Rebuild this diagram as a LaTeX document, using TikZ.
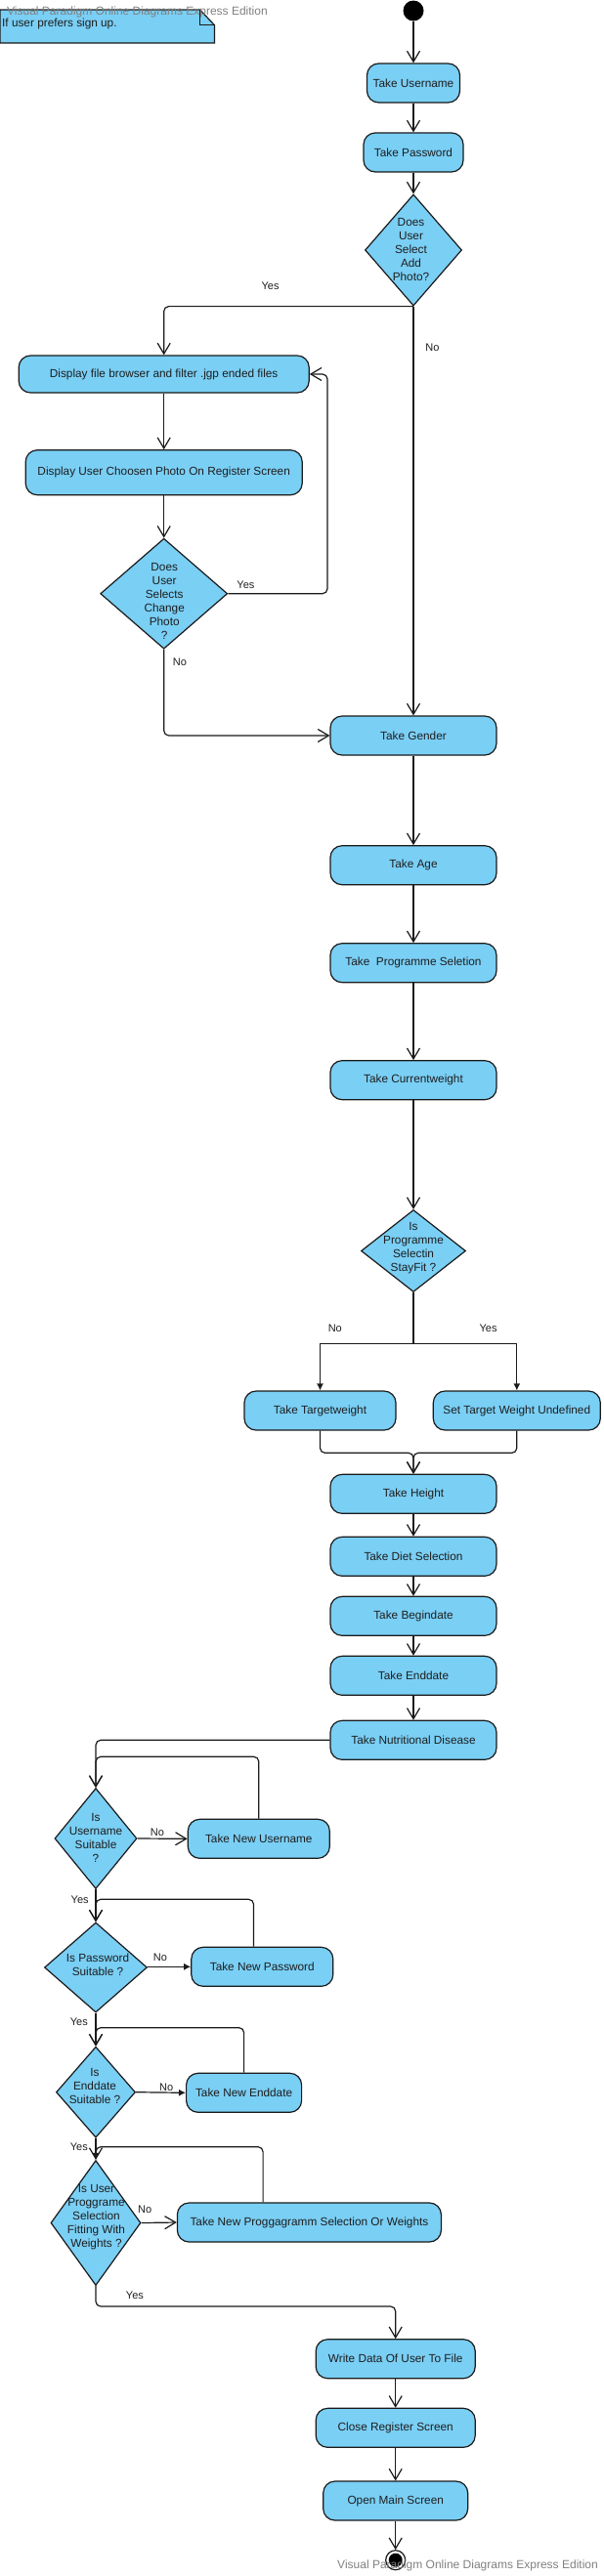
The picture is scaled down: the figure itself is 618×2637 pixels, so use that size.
\documentclass[tikz,border=0pt]{standalone}
\usepackage{fontspec}
\setmainfont{Liberation Sans}
\usetikzlibrary{arrows.meta,shapes.geometric,calc}
\definecolor{vpblue}{RGB}{122,207,245}
\definecolor{txt}{RGB}{30,30,30}
\definecolor{lnc}{RGB}{26,26,26}
\definecolor{wm}{RGB}{128,128,128}
\begin{document}
\begin{tikzpicture}[x=1pt,y=-1pt,
  act/.style={rectangle, rounded corners=12pt, draw=lnc, line width=1.2pt, fill=vpblue, minimum height=40pt, inner sep=0pt, text=txt, font=\fontsize{11.8}{14}\selectfont},
  dec/.style={diamond, draw=lnc, line width=1.2pt, fill=vpblue, inner sep=0pt},
  dtxt/.style={align=center, text=txt, font=\fontsize{11.8}{14}\selectfont, inner sep=0pt},
  lbl/.style={text=txt, font=\fontsize{11}{13}\selectfont, inner sep=0pt},
  flow/.style={line width=1.2pt, draw=lnc, rounded corners=5pt, -{Straight Barb[length=11pt,width=13pt,line width=1.2pt]}},
  flowf/.style={line width=1.2pt, draw=lnc, rounded corners=5pt, -{Latex[length=7pt,width=7pt]}},
  link/.style={line width=1.2pt, draw=lnc},
]
\useasboundingbox (0,0) rectangle (618,2637);

% note
\path[fill=vpblue, draw=lnc, line width=1.2pt] (0,10) -- (204.5,10) -- (219.5,25.7) -- (219.5,44) -- (0,44) -- cycle;
\draw[line width=1.2pt, draw=lnc] (204.5,10) -- (204.5,25.7) -- (219.5,25.7);
\node[anchor=west, text=txt, font=\fontsize{11.8}{14}\selectfont, inner sep=0pt] (notetext) at (2,24) {If user prefers sign up.};
\node[anchor=west, text=wm, font=\fontsize{12}{14}\selectfont, inner sep=0pt] (wm1) at (7,12) {Visual Paradigm Online Diagrams Express Edition};

% nodes
\node[circle, fill=black, minimum size=21pt, inner sep=0pt] (start) at (423,11) {};
\node[act, minimum width=95pt] (user) at (423,85) {Take Username};
\node[act, minimum width=102pt] (pass) at (423,156) {Take Password};
\node[dec, minimum width=99pt, minimum height=114pt] (d1) at (423,256) {};
\node[dtxt] (d1t) at (420.5,255) {Does\\User\\Select\\Add\\Photo?};
\node[act, minimum width=297pt, minimum height=38pt] (browse) at (167.7,383) {Display file browser and filter .jgp ended files};
\node[act, minimum width=283pt, minimum height=46pt] (show) at (167.7,483.7) {Display User Choosen Photo On Register Screen};
\node[dec, minimum width=130pt, minimum height=113pt] (d2) at (167.7,607.7) {};
\node[dtxt] (d2t) at (168.2,615) {Does\\User\\Selects\\Change\\Photo\\?};
\node[act, minimum width=170pt] (gender) at (423,753) {Take Gender};
\node[act, minimum width=170pt] (age) at (423,885.7) {Take Age};
\node[act, minimum width=170pt] (prog) at (423,985.7) {Take\ \ Programme Seletion};
\node[act, minimum width=170pt] (cur) at (423,1105.7) {Take Currentweight};
\node[dec, minimum width=107pt, minimum height=84pt] (d3) at (423,1280.5) {};
\node[dtxt] (d3t) at (423,1278) {Is\\Programme\\Selectin\\StayFit ?};
\coordinate (br) at (423,1375.3);
\node[act, minimum width=155pt] (targ) at (327.5,1444) {Take Targetweight};
\node[act, minimum width=171pt] (undef) at (528.8,1444) {Set Target Weight Undefined};
\node[act, minimum width=170pt] (height) at (423,1529.3) {Take Height};
\node[act, minimum width=170pt] (diet) at (423,1593.3) {Take Diet Selection};
\node[act, minimum width=170pt] (begin) at (423,1654.3) {Take Begindate};
\node[act, minimum width=170pt] (endd) at (423,1715.3) {Take Enddate};
\node[act, minimum width=170pt] (nut) at (423,1781.3) {Take Nutritional Disease};

\node[dec, minimum width=84pt, minimum height=103pt] (d4) at (98,1882) {};
\node[dtxt] (d4t) at (98,1881) {Is\\Username\\Suitable\\?};
\node[act, minimum width=145pt] (nuser) at (264.8,1882.3) {Take New Username};
\node[dec, minimum width=105pt, minimum height=92pt] (d5) at (98,2014) {};
\node[dtxt] (d5t) at (100,2011) {Is Password\\Suitable ?};
\node[act, minimum width=145pt] (npass) at (268.3,2013.3) {Take New Password};
\node[dec, minimum width=81pt, minimum height=93pt] (d6) at (98,2141.7) {};
\node[dtxt] (d6t) at (97,2135) {Is\\Enddate\\Suitable ?};
\node[act, minimum width=118pt] (nend) at (249.6,2142.3) {Take New Enddate};
\node[dec, minimum width=92pt, minimum height=128pt] (d7) at (98,2275.5) {};
\node[dtxt] (d7t) at (98.5,2269.7) {Is User\\Proggrame\\Selection\\Fitting With\\Weights ?};
\node[act, minimum width=270pt] (nprog) at (316.4,2275) {Take New Proggagramm Selection Or Weights};
\node[act, minimum width=163pt] (write) at (404.7,2414.7) {Write Data Of User To File};
\node[act, minimum width=163pt] (close) at (404.7,2485.3) {Close Register Screen};
\node[act, minimum width=148pt] (open) at (404.7,2560) {Open Main Screen};
\node[circle, draw=lnc, line width=1.2pt, fill=white, minimum size=20pt, inner sep=0pt] (final) at (404.7,2620.7) {};
\node[circle, fill=black, minimum size=14pt, inner sep=0pt] (finalin) at (final.center) {};

% connectors
\draw[flow] (start) -- (user);
\draw[flow] (user) -- (pass);
\draw[flow] (pass) -- (d1.north);
\draw[flow] (d1.south) -| (browse.north);
\draw[flow] (d1.south) -- (gender.north);
\draw[flow] (browse) -- (show);
\draw[flow] (show.south) -- (d2.north);
\coordinate (loopA) at (335,383);
\draw[flow] (d2.east) -| (loopA) -- (browse.east);
\draw[flow] (d2.south) |- (gender.west);
\draw[flow] (gender) -- (age);
\draw[flow] (age) -- (prog);
\draw[flow] (prog) -- (cur);
\draw[flow] (cur) -- (d3.north);
\draw[link] (d3.south) -- (br);
\draw[flowf, rounded corners=0pt] (br) -| (targ.north);
\draw[flowf, rounded corners=0pt] (br) -| (undef.north);
\coordinate (mg) at (423,1487.3);
\draw[flow] (targ.south) |- (mg) -- (height.north);
\draw[flow] (undef.south) |- (mg) -- (height.north);
\draw[flow] (height) -- (diet);
\draw[flow] (diet) -- (begin);
\draw[flow] (begin) -- (endd);
\draw[flow] (endd) -- (nut);
\draw[flow] (nut.west) -| (d4.north);
\coordinate (c4) at (98,1798.3);
\draw[flow] (nuser.north) |- (c4) -- (d4.north);
\draw[flow] (d4.east) -- (nuser.west);
\draw[flow] (d4.south) -- (d5.north);
\coordinate (c5) at (98,1944.3);
\draw[flow] ($(npass.north)+(-8.8,0)$) |- (c5) -- (d5.north);
\draw[flowf] (d5.east |- npass.west) -- (npass.west);
\draw[flow] (d5.south) -- (d6.north);
\coordinate (c6) at (98,2075.7);
\draw[flow] (nend.north) |- (c6) -- (d6.north);
\draw[flowf] (d6.east) -- (nend.west);
\draw[flowf] (d6.south) -- (d7.north);
\coordinate (c7) at (98,2197.7);
\draw[flow] ($(nprog.north)+(-47.3,0)$) |- (c7) -- (d7.north);
\draw[flow] (d7.east) -- (nprog.west);
\coordinate (c8) at (404.7,2361);
\draw[flow] (d7.south) |- (c8) -- (write.north);
\draw[flow] (write) -- (close);
\draw[flow] (close) -- (open);
\draw[flow] (open) -- (final);

% labels
\node[lbl] (yes1) at (276.6,292.7) {Yes};
\node[lbl] (no1) at (442.5,355.7) {No};
\node[lbl] (yes2) at (251.4,598.7) {Yes};
\node[lbl] (no2) at (184,677.3) {No};
\node[lbl] (no3) at (342.8,1359.7) {No};
\node[lbl] (yes3) at (499.6,1359.7) {Yes};
\node[lbl] (no4) at (161,1875.7) {No};
\node[lbl] (yes4) at (81.7,1944.3) {Yes};
\node[lbl] (no5) at (163.9,2003.7) {No};
\node[lbl] (yes5) at (80.8,2069.3) {Yes};
\node[lbl] (no6) at (170.2,2136.7) {No};
\node[lbl] (yes6) at (80.8,2197.7) {Yes};
\node[lbl] (no7) at (148.1,2261.7) {No};
\node[lbl] (yes7) at (137.9,2349.3) {Yes};

\node[anchor=east, text=wm, font=\fontsize{12}{14}\selectfont, inner sep=0pt] (wm2) at (612,2626.7) {Visual Paradigm Online Diagrams Express Edition};
\end{tikzpicture}
\end{document}
